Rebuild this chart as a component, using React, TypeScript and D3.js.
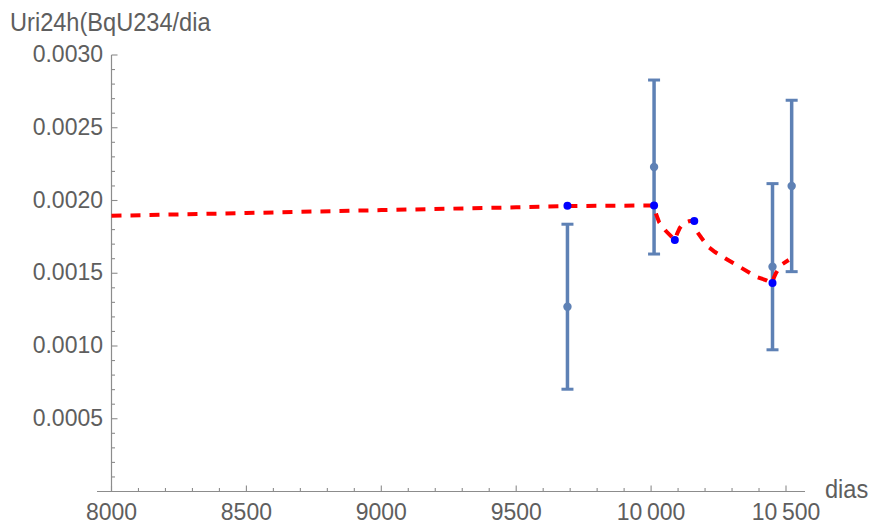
import React from "react";
import * as d3 from "d3";

// Measurements with error bars (days, value, error)
const measDays = [9690, 10011, 10450, 10521];
const measValues = [0.00127, 0.00223, 0.001545, 0.0021];
const measErrors = [0.000567, 0.000598, 0.000571, 0.000589];

// Model values at the measurement/intake days (blue points)
const fitDays = [9690, 10011, 10088, 10160, 10450];
const fitValues = [0.001964, 0.001966, 0.001728, 0.001859, 0.001433];

// Model curve (red dashed)
const curveDays = [
  8000, 8500, 9000, 9500, 9690, 10011, 10018, 10030, 10055, 10088, 10096, 10106,
  10120, 10140, 10160, 10165, 10170, 10187, 10211, 10237, 10285, 10329, 10392,
  10425, 10450, 10455, 10463, 10482, 10510,
];
const curveValues = [
  0.001895, 0.001914, 0.001934, 0.001953, 0.001962, 0.001966, 0.00191, 0.00185,
  0.00179, 0.001728, 0.00177, 0.00181, 0.001845, 0.001857, 0.001862, 0.00182,
  0.001786, 0.001742, 0.001683, 0.001646, 0.001591, 0.001543, 0.001474, 0.001453,
  0.001432, 0.00147, 0.001502, 0.001557, 0.001591,
];

const xTickValues = [8000, 8500, 9000, 9500, 10000, 10500];
const xTickLabels = ["8000", "8500", "9000", "9500", "10\u2009000", "10\u2009500"];
const yTickValues = [0.0005, 0.001, 0.0015, 0.002, 0.0025, 0.003];
const yTickLabels = ["0.0005", "0.0010", "0.0015", "0.0020", "0.0025", "0.0030"];

const yTitle = "Uri24h(BqU234/dia";
const xTitle = "dias";

export default function App() {
  const W = 869;
  const H = 525;
  const x = d3.scaleLinear().domain([8000, 10500]).range([111.5, 786]);
  const y = d3.scaleLinear().domain([0, 0.003]).range([491.5, 55]);

  const axisColor = "#8c8c8c";
  const textColor = "#5e5e5e";
  const font = "'Liberation Sans', Arial, sans-serif";
  const fs = 23;
  const sy = 1.08;

  const xMinor = d3.range(8000, 10600, 100).filter((v) => x(v) <= 805);
  const yMinor = d3.range(1, 31).map((i) => i * 0.0001);

  const line = d3
    .line<number>()
    .x((_, i) => x(curveDays[i]))
    .y((d) => y(d))
    .curve(d3.curveLinear);

  const barColor = "#5E81B5";

  const T = (props: {
    x: number;
    y: number;
    anchor?: string;
    size?: number;
    children: React.ReactNode;
  }) => (
    <text
      transform={`translate(${props.x},${props.y}) scale(1,${sy})`}
      textAnchor={props.anchor || "start"}
      fontFamily={font}
      fontSize={props.size || fs}
      fill={textColor}
    >
      {props.children}
    </text>
  );

  return (
    <svg
      width={W}
      height={H}
      style={{ position: "absolute", left: 0, top: 0, background: "#fff" }}
    >
      <rect width={W} height={H} fill="#fff" />
      {/* axes */}
      <line x1={97} x2={805} y1={y(0)} y2={y(0)} stroke={axisColor} strokeWidth={1.2} />
      <line x1={x(8000)} x2={x(8000)} y1={y(0)} y2={y(0.003)} stroke={axisColor} strokeWidth={1.2} />
      {/* x ticks */}
      {xMinor.map((v) => {
        const major = Math.round(v) % 500 === 0;
        return (
          <line
            key={"xm" + v}
            x1={x(v)}
            x2={x(v)}
            y1={y(0)}
            y2={y(0) - (major ? 6 : 3.5)}
            stroke={axisColor}
            strokeWidth={1.1}
          />
        );
      })}
      {/* y ticks */}
      {yMinor.map((v, i) => {
        const major = (i + 1) % 5 === 0;
        return (
          <line
            key={"ym" + i}
            x1={x(8000)}
            x2={x(8000) + (major ? 6 : 3.5)}
            y1={y(v)}
            y2={y(v)}
            stroke={axisColor}
            strokeWidth={1.1}
          />
        );
      })}
      {/* tick labels */}
      {xTickValues.map((v, i) => (
        <T key={"xl" + v} x={x(v)} y={520} anchor="middle">
          {xTickLabels[i]}
        </T>
      ))}
      {yTickValues.map((v, i) => (
        <T key={"yl" + v} x={103} y={y(v) + 7} anchor="end">
          {yTickLabels[i]}
        </T>
      ))}
      <T x={10} y={31} size={23.6}>
        {yTitle}
      </T>
      <T x={825} y={498} size={23.6}>
        {xTitle}
      </T>

      {/* error bars */}
      {measDays.map((d, i) => {
        const cx = x(d);
        const top = y(measValues[i] + measErrors[i]);
        const bot = y(measValues[i] - measErrors[i]);
        return (
          <g key={"eb" + i} stroke={barColor} fill={barColor}>
            <line x1={cx} x2={cx} y1={top} y2={bot} strokeWidth={3.5} />
            <line x1={cx - 6} x2={cx + 6} y1={top} y2={top} strokeWidth={3} />
            <line x1={cx - 6} x2={cx + 6} y1={bot} y2={bot} strokeWidth={3} />
            <circle cx={cx} cy={y(measValues[i])} r={4.2} stroke="none" />
          </g>
        );
      })}

      {/* model curve */}
      <path
        d={line(curveValues) || ""}
        fill="none"
        stroke="#ff0000"
        strokeWidth={4}
        strokeDasharray="10,9"
      />

      {/* model points */}
      {fitDays.map((d, i) => (
        <circle key={"fp" + i} cx={x(d)} cy={y(fitValues[i])} r={4} fill="#0000ff" />
      ))}
    </svg>
  );
}
